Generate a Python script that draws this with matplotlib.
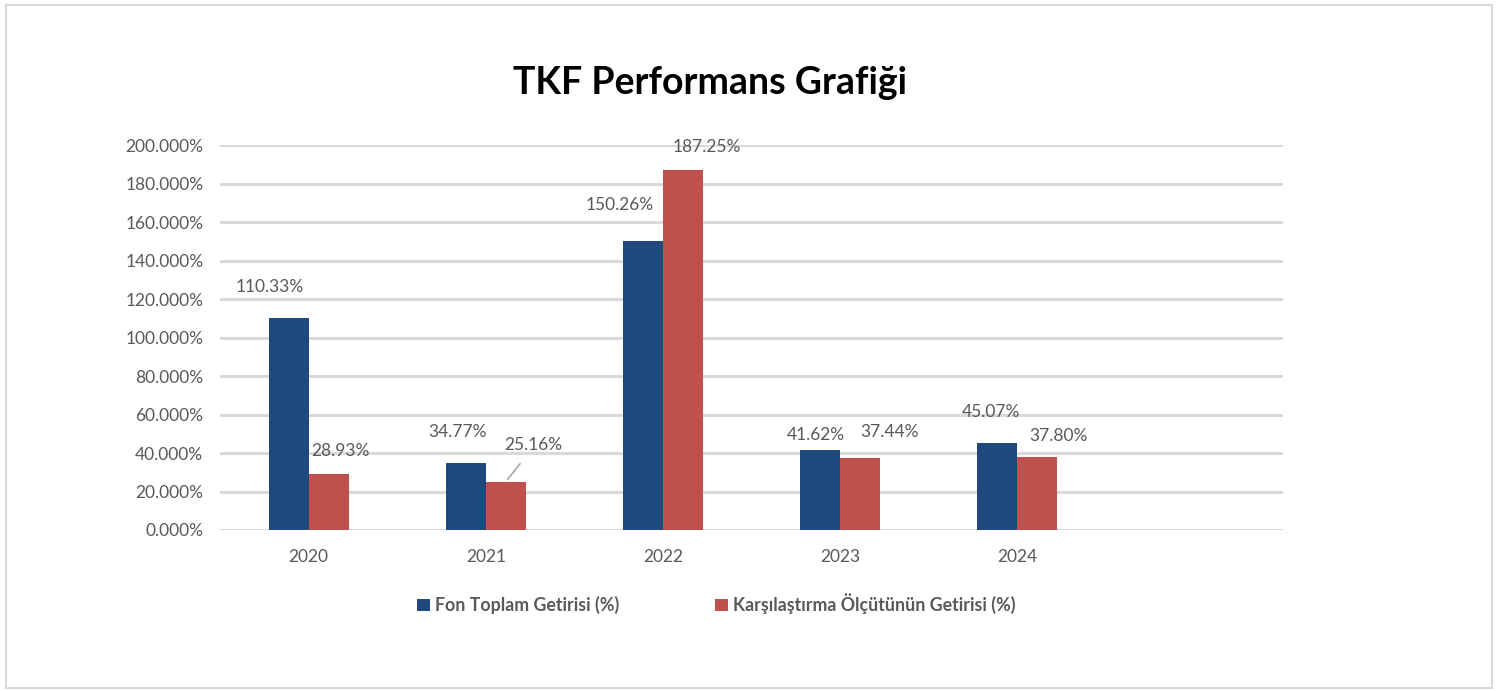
import numpy as np
import matplotlib
matplotlib.use("Agg")
import matplotlib.pyplot as plt
from matplotlib.patches import Rectangle

# Veriler
yillar = ["2020", "2021", "2022", "2023", "2024"]
fon_getiri = [110.33, 34.77, 150.26, 41.62, 45.07]
olcut_getiri = [28.93, 25.16, 187.25, 37.44, 37.80]
seri_adlari = ["Fon Toplam Getirisi (%)", "Karşılaştırma Ölçütünün Getirisi (%)"]
y_ticks = [0, 20, 40, 60, 80, 100, 120, 140, 160, 180, 200]

# etiket konumlari (piksel kaydirma: dx, dy)
fon_ofset = [(-19, 31), (-8, 31), (-23, 36), (-4, 15), (-6, 31)]
olcut_ofset = [(12, 23), (27, 37), (24, 23), (29, 26), (21, 21)]

mavi = "#1F497D"
kirmizi = "#C0504D"
gri = "#595959"

plt.rcParams['font.family'] = ['Lato', 'DejaVu Sans']

fig = plt.figure(figsize=(15.02, 6.91), dpi=100)
ax = fig.add_axes([0.1465, 0.233, 0.7077, 0.557])

x = np.arange(len(yillar))
w = 0.226
b1 = ax.bar(x - w / 2, fon_getiri, w, color=mavi, label=seri_adlari[0], zorder=3)
b2 = ax.bar(x + w / 2, olcut_getiri, w, color=kirmizi, label=seri_adlari[1], zorder=3)

ax.set_xlim(-0.5, 5.5)
ax.set_ylim(0, 200)
ax.set_yticks(y_ticks)
ax.set_yticklabels([f"{v:.3f}%" for v in y_ticks])
ax.set_xticks(x)
ax.set_xticklabels(yillar)
ax.tick_params(axis='both', length=0, labelsize=12.5, colors=gri)
ax.tick_params(axis='x', pad=14)
ax.tick_params(axis='y', pad=12)
ax.grid(axis='y', color='#D9D9D9', linewidth=2.2, zorder=0)
for s in ax.spines.values():
    s.set_visible(False)

# deger etiketleri
for bars, vals, ofs in [(b1, fon_getiri, fon_ofset), (b2, olcut_getiri, olcut_ofset)]:
    for bar, v, (dx, dy) in zip(bars, vals, ofs):
        ax.annotate(f"{v:.2f}%", (bar.get_x() + bar.get_width() / 2, v),
                    xytext=(dx, dy), textcoords='offset pixels',
                    ha='center', va='center', fontsize=12.5, color=gri, zorder=4)

# 2021 olcut etiketi icin baglanti cizgisi
bar = b2[1]
ax.annotate("", (bar.get_x() + bar.get_width() / 2, olcut_getiri[1]),
            xytext=(16, 20), textcoords='offset pixels',
            arrowprops=dict(arrowstyle='-', color='#A6A6A6', lw=1.2), zorder=4)

fig.suptitle("TKF Performans Grafiği", x=0.473, y=0.905, fontsize=27,
             fontweight='bold', color='black')

leg = fig.legend(loc='center', bbox_to_anchor=(0.477, 0.126), ncol=2,
                 frameon=False, fontsize=12.8, handlelength=0.7, handleheight=0.7,
                 handletextpad=0.3, columnspacing=5.4)
for t in leg.get_texts():
    t.set_color(gri)
    t.set_fontweight('bold')

fig.patches.append(Rectangle((0.004, 0.005), 0.9895, 0.988, transform=fig.transFigure,
                             fill=False, edgecolor='#D9D9D9', linewidth=1.5))

fig.savefig("out.png", dpi=100)
